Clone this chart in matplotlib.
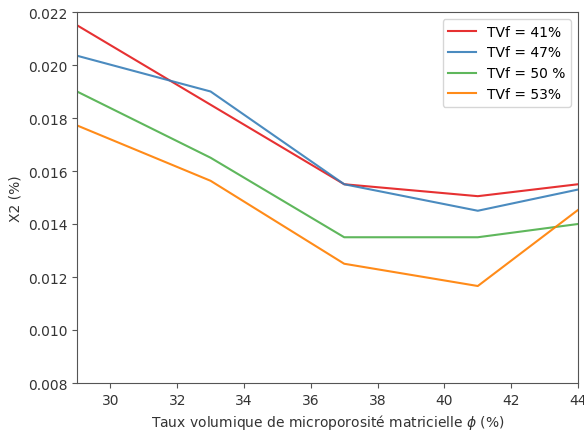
import matplotlib
matplotlib.use("Agg")
import matplotlib.pyplot as plt

# taux de microporosité (%)
phi = [29, 33, 37, 41, 44]

x2_41 = [0.0215, 0.0185, 0.0155, 0.01505, 0.0155]
x2_47 = [0.02035, 0.0190, 0.0155, 0.0145, 0.01530]
x2_50 = [0.0190, 0.0165, 0.0135, 0.0135, 0.0140]
x2_53 = [0.01772, 0.01563, 0.0125, 0.01166, 0.01453]

labels = ["TVf = 41%", "TVf = 47%", "TVf = 50 %", "TVf = 53%"]
colors = ["#e41a1c", "#377eb8", "#4daf4a", "#ff7f00"]

fig = plt.figure(figsize=(5.84, 4.35), dpi=100)
ax = fig.add_axes([77/584, 1-384/435, (578-77)/584, (384-13)/435])

for ys, lab, c in zip([x2_41, x2_47, x2_50, x2_53], labels, colors):
    ax.plot(phi, ys, color=c, lw=1.5, alpha=0.9, label=lab)

ax.set_xlim(29, 44)
ax.set_ylim(0.008, 0.022)
ax.set_xticks([30, 32, 34, 36, 38, 40, 42, 44])
ax.set_yticks([0.008, 0.010, 0.012, 0.014, 0.016, 0.018, 0.020, 0.022])
ax.yaxis.set_major_formatter(matplotlib.ticker.FormatStrFormatter("%.3f"))
for sp in ax.spines.values():
    sp.set_color("#555555")
ax.tick_params(colors="#555555", labelcolor="#333333")
ax.set_xlabel(r"Taux volumique de microporosité matricielle $\phi$ (%)", color="#333333")
ax.set_ylabel("X2 (%)", color="#333333")
ax.legend(loc="upper right")

fig.savefig("out.png")
